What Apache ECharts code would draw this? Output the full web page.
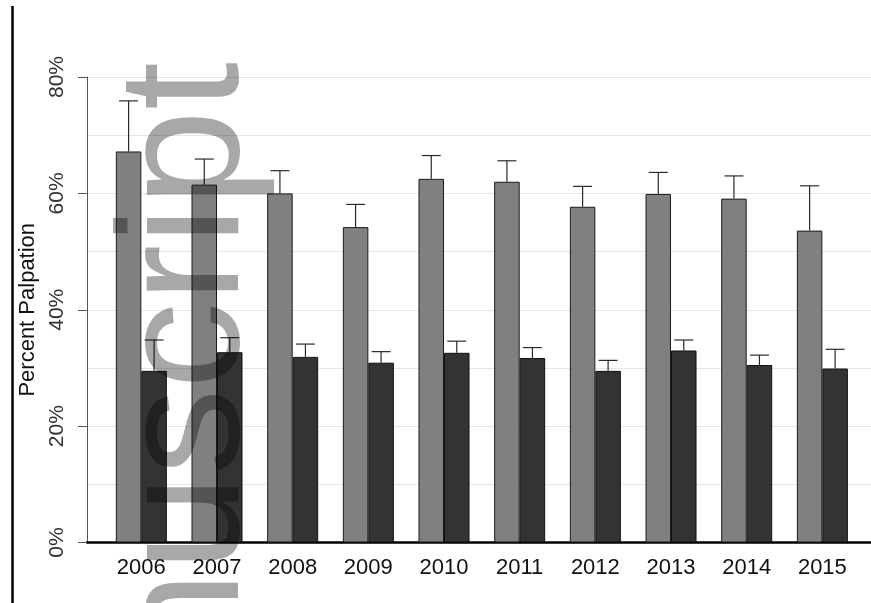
<!DOCTYPE html>
<html>
<head>
<meta charset="utf-8">
<script src="https://cdn.jsdelivr.net/npm/echarts@6/dist/echarts.min.js"></script>
<style>
  html, body { margin: 0; padding: 0; background: #fff; }
  #chart { width: 871px; height: 603px; }
</style>
</head>
<body>
<div id="chart"></div>
<script>
// Palpation rate per year, two groups, with upper confidence limits
const years = ['2006', '2007', '2008', '2009', '2010', '2011', '2012', '2013', '2014', '2015'];
const lightValues = [67.2, 61.5, 60.0, 54.2, 62.5, 62.0, 57.7, 59.9, 59.1, 53.6];
const lightUpper  = [75.9, 65.9, 63.9, 58.1, 66.5, 65.6, 61.2, 63.6, 63.0, 61.3];
const darkValues  = [29.5, 32.7, 31.9, 30.9, 32.6, 31.7, 29.5, 33.0, 30.5, 29.9];
const darkUpper   = [34.8, 35.2, 34.1, 32.8, 34.6, 33.5, 31.3, 34.8, 32.2, 33.2];
const yTicks = [0, 20, 40, 60, 80];

const BAR_W = 25.5;
const CAP_W = 19;
const FONT = '"Liberation Sans", Arial, sans-serif';

const chart = echarts.init(document.getElementById('chart'), null, { renderer: 'canvas' });

// error bar (upper whisker + cap) drawn beside the bar centre
function whisker(side) {
  return function (params, api) {
    const cat = api.value(0);
    const base = api.coord([cat, api.value(1)]);
    const top = api.coord([cat, api.value(2)]);
    const x = base[0] + side * BAR_W / 2;
    const style = { stroke: '#2a2a2a', lineWidth: 1.2 };
    return {
      type: 'group',
      children: [
        { type: 'line', shape: { x1: x, y1: base[1], x2: x, y2: top[1] }, style },
        { type: 'line', shape: { x1: x - CAP_W / 2, y1: top[1], x2: x + CAP_W / 2, y2: top[1] }, style }
      ]
    };
  };
}

const option = {
  backgroundColor: '#fff',
  animation: false,
  grid: [
    { left: 103.5, right: 10.8, top: 77, bottom: 60.5 },
    { left: 87, right: 0, top: 77, bottom: 60.5 }
  ],
  xAxis: [
    {
      type: 'category', gridIndex: 0, data: years,
      axisLine: { show: false }, axisTick: { show: false },
      axisLabel: { color: '#111', fontSize: 22, fontFamily: FONT, margin: 14 },
      splitLine: { show: false }
    },
    {
      type: 'value', gridIndex: 1, min: 0, max: 1,
      axisLine: { show: true, lineStyle: { color: '#000', width: 2.5 } },
      axisTick: { show: false }, axisLabel: { show: false }, splitLine: { show: false }
    }
  ],
  yAxis: [
    { type: 'value', gridIndex: 0, min: 0, max: 80, show: false, splitLine: { show: false } },
    {
      type: 'value', gridIndex: 1, min: yTicks[0], max: yTicks[yTicks.length - 1], interval: 20,
      name: 'Percent Palpation', nameLocation: 'middle', nameRotate: 90, nameGap: 42,
      nameTextStyle: { color: '#111', fontSize: 22, fontFamily: FONT },
      axisLine: { show: true, lineStyle: { color: '#555', width: 1 } },
      axisTick: { show: true, length: 9, lineStyle: { color: '#555', width: 1 } },
      axisLabel: {
        rotate: 90, margin: 19, color: '#333', fontSize: 21, fontFamily: FONT,
        formatter: v => v + '%'
      },
      splitLine: { show: true, lineStyle: { color: '#e6e6e6', width: 1 } },
      minorTick: { show: false, splitNumber: 2 },
      minorSplitLine: { show: true, lineStyle: { color: '#e6e6e6', width: 1 } }
    }
  ],
  series: [
    {
      name: 'Light group', type: 'bar', xAxisIndex: 0, yAxisIndex: 0,
      data: lightValues, barWidth: BAR_W, barGap: '0%',
      itemStyle: { color: '#808080', borderColor: '#1a1a1a', borderWidth: 1 }
    },
    {
      name: 'Dark group', type: 'bar', xAxisIndex: 0, yAxisIndex: 0,
      data: darkValues, barWidth: BAR_W, barGap: '0%',
      itemStyle: { color: '#333333', borderColor: '#111', borderWidth: 1 }
    },
    {
      type: 'custom', xAxisIndex: 0, yAxisIndex: 0, z: 5,
      renderItem: whisker(-1),
      data: lightValues.map((v, i) => [i, v, lightUpper[i]])
    },
    {
      type: 'custom', xAxisIndex: 0, yAxisIndex: 0, z: 5,
      renderItem: whisker(1),
      data: darkValues.map((v, i) => [i, v, darkUpper[i]])
    }
  ],
  graphic: [
    {
      type: 'line', z: 50,
      shape: { x1: 12.5, y1: 6, x2: 12.5, y2: 603 },
      style: { stroke: '#000', lineWidth: 2.5 }
    },
    {
      type: 'text', z: 100, silent: true,
      x: 190, y: 62, rotation: Math.PI / 2,
      style: {
        text: 'Manuscript',
        font: '173px "Liberation Sans", Arial, sans-serif',
        fill: 'rgba(0,0,0,0.34)',
        align: 'right', verticalAlign: 'middle'
      }
    }
  ]
};

chart.setOption(option);
</script>
</body>
</html>
